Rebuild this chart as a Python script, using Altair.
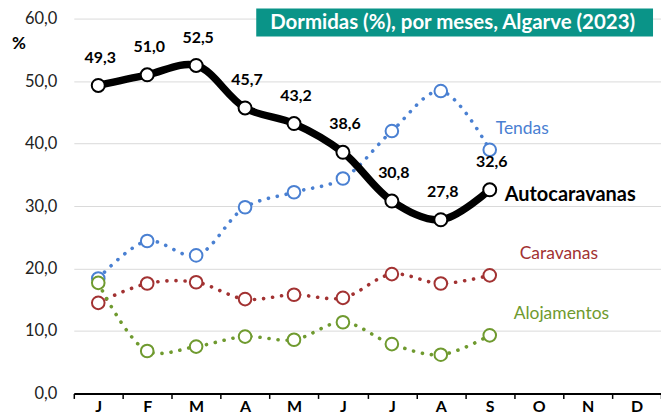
import altair as alt
import pandas as pd

month_idx = [1, 2, 3, 4, 5, 6, 7, 8, 9, 10, 11, 12]
month_letters = ["J", "F", "M", "A", "M", "J", "J", "A", "S", "O", "N", "D"]

autocaravanas = [49.3, 51.0, 52.5, 45.7, 43.2, 38.6, 30.8, 27.8, 32.6]
tendas = [18.4, 24.4, 22.1, 29.8, 32.2, 34.4, 42.0, 48.4, 39.0]
caravanas = [14.5, 17.6, 17.8, 15.1, 15.8, 15.3, 19.1, 17.6, 18.9]
alojamentos = [17.7, 6.8, 7.5, 9.1, 8.6, 11.4, 7.9, 6.2, 9.3]

series = {
    "Autocaravanas": autocaravanas,
    "Tendas": tendas,
    "Caravanas": caravanas,
    "Alojamentos": alojamentos,
}
colors = {
    "Autocaravanas": "#000000",
    "Tendas": "#4A80D2",
    "Caravanas": "#A23232",
    "Alojamentos": "#6F9A2F",
}

rows = []
for name, vals in series.items():
    for m, v in zip(month_idx, vals):
        rows.append({"m": m, "serie": name, "v": v,
                     "lab": f"{v:.1f}".replace(".", ",")})
df = pd.DataFrame(rows)

label_expr = "[" + ",".join(f"'{l}'" for l in month_letters) + "][datum.value-1]"

FONT = "Lato"

x_enc = alt.X("m:O", scale=alt.Scale(domain=month_idx, paddingInner=0, paddingOuter=0),
              axis=alt.Axis(title=None, labelExpr=label_expr, labelAngle=0,
                            labelFont=FONT, labelFontSize=16, labelFontWeight="bold",
                            labelColor="#000000", domainColor="#000000", domainWidth=2,
                            tickColor="#000000", tickWidth=1.5, tickSize=5,
                            tickBand="extent", labelPadding=0, grid=False))
y_enc = alt.Y("v:Q", scale=alt.Scale(domain=[0, 60], nice=False),
              axis=alt.Axis(title=None, values=[0, 10, 20, 30, 40, 50, 60],
                            labelExpr="replace(format(datum.value, '.1f'), '.', ',')",
                            labelFont=FONT, labelFontSize=16.5, labelColor="#222222",
                            ticks=False, domain=False, labelPadding=17,
                            gridColor="#dadada", gridWidth=1))

base = alt.Chart(df).encode(x=x_enc, y=y_enc)

layers = []
for name in ["Tendas", "Caravanas", "Alojamentos"]:
    sub = base.transform_filter(alt.datum.serie == name)
    layers.append(sub.mark_line(interpolate="catmull-rom", strokeWidth=3.6,
                                strokeDash=[0.1, 9], strokeCap="round",
                                color=colors[name]))
    layers.append(sub.mark_point(shape="circle", size=160, filled=True,
                                 fill="white", stroke=colors[name],
                                 strokeWidth=2, opacity=1))

auto = base.transform_filter(alt.datum.serie == "Autocaravanas")
layers.append(auto.mark_line(interpolate="catmull-rom", strokeWidth=7.5,
                             color="#000000", strokeJoin="round"))
layers.append(auto.mark_point(shape="circle", size=170, filled=True, fill="white",
                              stroke="#000000", strokeWidth=2, opacity=1))
layers.append(auto.mark_text(font=FONT, fontSize=16, fontWeight="bold", dy=-28,
                             dx=2, color="#000000").encode(text="lab:N"))

# series name labels, anchored to the September point of each series
sep = base.transform_filter(alt.datum.m == 9)
layers.append(sep.transform_filter(alt.datum.serie == "Tendas").mark_text(
    font=FONT, fontSize=17.5, align="left", dx=6, dy=-21, color=colors["Tendas"]
).encode(text="serie:N"))
layers.append(sep.transform_filter(alt.datum.serie == "Autocaravanas").mark_text(
    font=FONT, fontSize=20, fontWeight="bold", align="left", dx=15, dy=5, color="#000000"
).encode(text="serie:N"))
layers.append(sep.transform_filter(alt.datum.serie == "Caravanas").mark_text(
    font=FONT, fontSize=17.5, align="left", dx=30, dy=-21, color=colors["Caravanas"]
).encode(text="serie:N"))
layers.append(sep.transform_filter(alt.datum.serie == "Alojamentos").mark_text(
    font=FONT, fontSize=17.5, align="left", dx=24, dy=-21, color=colors["Alojamentos"]
).encode(text="serie:N"))

# title box
deco = pd.DataFrame({"t": ["Dormidas (%), por meses, Algarve (2023)"]})
title_box = alt.Chart(deco).mark_rect(color="#0A9488").encode(
    x=alt.value(183), x2=alt.value(581), y=alt.value(-10), y2=alt.value(18))
title_txt = alt.Chart(deco).mark_text(font=FONT, fontSize=20.5, fontWeight="bold",
                                      color="white", baseline="middle").encode(
    x=alt.value(380), y=alt.value(4), text="t:N")
pct = alt.Chart(pd.DataFrame({"t": ["%"]})).mark_text(
    font=FONT, fontSize=17, fontWeight="bold", color="#000000").encode(
    x=alt.value(-55), y=alt.value(25), text="t:N")

chart = alt.layer(*layers, title_box, title_txt, pct).properties(
    width=589, height=376,
    autosize=alt.AutoSizeParams(type="none"),
    padding={"left": 66, "top": 10, "right": 0, "bottom": 22},
).configure_view(stroke=None)

chart.save("out.html", embed_options={"renderer": "svg", "actions": False})
